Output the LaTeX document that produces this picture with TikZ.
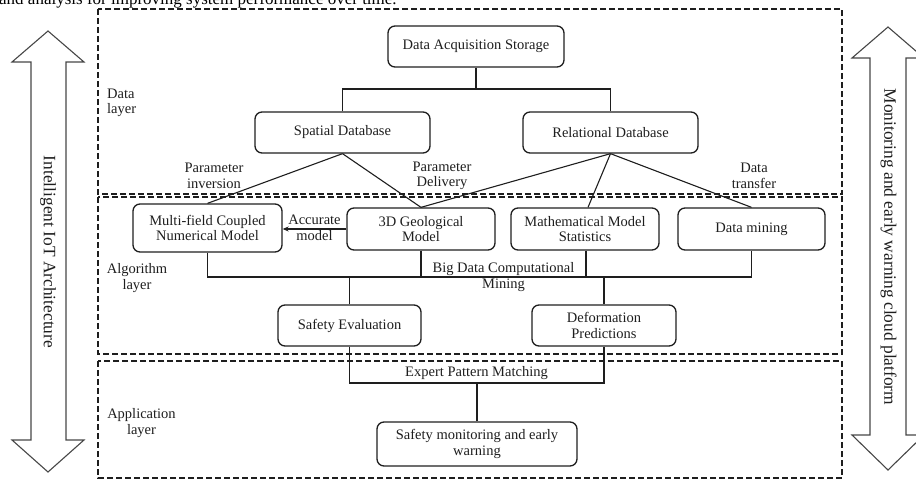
\documentclass[tikz,border=0pt]{standalone}
\usepackage{fontspec}
\setmainfont{Liberation Serif}
\usetikzlibrary{arrows.meta}
\definecolor{ink}{RGB}{30,30,30}
\definecolor{arrowink}{RGB}{70,70,70}
\newcommand\lblfont{\fontsize{14.5}{15.5}\selectfont}
\newcommand\sidefont{\fontsize{17.4}{18}\selectfont}
\begin{document}
\begin{tikzpicture}[x=1pt,y=-1pt,
  box/.style={draw=ink, line width=1.3pt, rounded corners=7pt, align=center, inner sep=0pt, font=\lblfont, text=ink},
  conn/.style={draw=ink, line width=1.1pt},
  layerbox/.style={draw=ink, line width=1.4pt, dash pattern=on 6pt off 3pt},
  lbl/.style={align=center, inner sep=0pt, font=\lblfont, text=ink},
  bigarrow/.style={draw=arrowink, line width=1.1pt, line join=miter},
  sidetext/.style={rotate=-90, inner sep=0pt, font=\sidefont, text=ink}]
\useasboundingbox (0,0) rectangle (916,479);
\clip (0,0) rectangle (916,479);

% cut-off caption line at the top
\node[anchor=base west, inner sep=0pt, font=\fontsize{17}{17}\selectfont, text=black] (cap) at (-1,5) {and analysis for improving system performance over time.};

% layer frames
\draw[layerbox] (98,9) rectangle (842,194);
\draw[layerbox] (98,197) rectangle (842,354);
\draw[layerbox] (98,361) rectangle (842,478);

% layer labels
\node[lbl, align=left, anchor=west] (ldata) at (107,103) {Data\\layer};
\node[lbl] (lalg) at (137,278) {Algorithm\\layer};
\node[lbl] (lapp) at (141.5,423) {Application\\layer};

% big side arrows
\draw[bigarrow] (48,31) -- (84,62) -- (66,62) -- (66,440) -- (84,440) -- (48,472)
  -- (12,440) -- (31,440) -- (31,62) -- (12,62) -- cycle;
\draw[bigarrow] (888,27) -- (924,58) -- (906,58) -- (906,435) -- (924,435) -- (888,470)
  -- (852,435) -- (870,435) -- (870,58) -- (852,58) -- cycle;
\node[sidetext] (lside) at (48,252) {Intelligent IoT Architecture};
\node[sidetext] (rside) at (888.5,247) {Monitoring and early warning cloud platform};

% data layer nodes
\node[box, minimum width=176pt, minimum height=41pt] (das) at (476,46.5) {Data Acquisition Storage};
\node[box, minimum width=175pt, minimum height=41pt] (sdb) at (342.5,132.5) {Spatial Database};
\node[box, minimum width=175pt, minimum height=41pt] (rdb) at (610.5,132.5) {Relational Database};

% algorithm layer nodes
\node[box, minimum width=149pt, minimum height=48pt] (mf) at (207.5,228) {Multi-field Coupled\\Numerical Model};
\node[box, minimum width=148pt, minimum height=42pt] (geo) at (421,229) {3D Geological\\Model};
\node[box, minimum width=148pt, minimum height=42pt] (math) at (585,229) {Mathematical Model\\Statistics};
\node[box, minimum width=147pt, minimum height=42pt] (dm) at (751.5,229) {Data mining};
\node[box, minimum width=143pt, minimum height=41pt] (se) at (349.5,325.5) {Safety Evaluation};
\node[box, minimum width=144pt, minimum height=41pt] (dp) at (604,325.5) {Deformation\\Predictions};

% application layer node
\node[box, minimum width=200pt, minimum height=44pt] (sm) at (477,444) {Safety monitoring and early\\warning};

% tree from storage
\coordinate (bus1) at (476,89);
\draw[conn] (das.south) -- (das.south |- bus1);
\draw[conn] (sdb.north) |- (rdb.north |- bus1) -- (rdb.north);

% data layer to algorithm layer
\draw[conn] (sdb.south) -- (mf.north);
\draw[conn] (sdb.south) -- (geo.north);
\draw[conn] (rdb.south) -- (geo.north);
\draw[conn] (rdb.south) -- ([xshift=3pt]math.north);
\draw[conn] (rdb.south) -- (dm.north);
\node[lbl] (pinv) at (214,176) {Parameter\\inversion};
\node[lbl] (pdel) at (442,176) {Parameter\\Delivery};
\node[lbl] (dtr) at (754,176) {Data\\transfer};

% accurate model
\draw[conn, -{Stealth[length=6pt,width=5pt]}] (geo.west) -- (mf.east |- geo.west);
\node[lbl] (acc) at (314.5,228) {Accurate\\model};

% big data bus
\coordinate (bus2) at (0,277);
\draw[conn] (mf.south) -- (mf.south |- bus2) -- (dm.south |- bus2) -- (dm.south);
\draw[conn] (geo.south) -- (geo.south |- bus2);
\draw[conn] ([xshift=1pt]math.south) -- ([xshift=1pt]math.south |- bus2);
\draw[conn] (se.north) -- (se.north |- bus2);
\draw[conn] (dp.north) -- (dp.north |- bus2);
\node[lbl] (bdm) at (503.5,277) {Big Data Computational\\Mining};

% expert pattern matching bus
\coordinate (bus3) at (0,383);
\draw[conn] (se.south) |- (dp.south |- bus3) -- (dp.south);
\draw[conn] (sm.north) -- (sm.north |- bus3);
\node[lbl] (epm) at (476.5,373) {Expert Pattern Matching};
\end{tikzpicture}
\end{document}
